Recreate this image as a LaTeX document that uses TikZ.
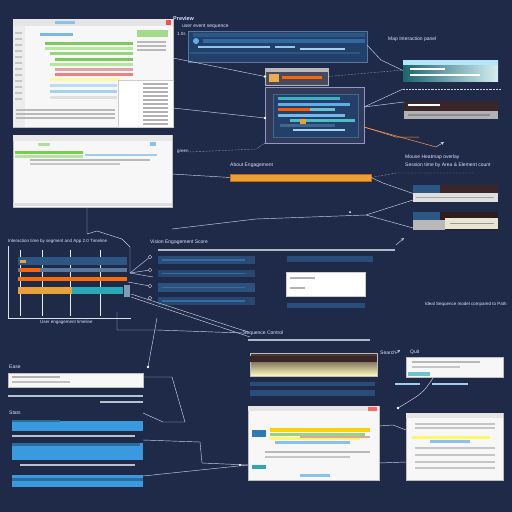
\documentclass[tikz,border=0pt]{standalone}
\usepackage{fontspec}
\setmainfont{Liberation Sans}
\definecolor{bg}{HTML}{1F2A48}
\definecolor{pnl}{HTML}{22406A}
\definecolor{pnlrow}{HTML}{2C5684}
\definecolor{brt}{HTML}{3E8FD0}
\definecolor{sky}{HTML}{3A9AE0}
\definecolor{org}{HTML}{E9A23B}
\definecolor{teal}{HTML}{2BA9B8}
\definecolor{grn}{HTML}{7CCB5A}
\definecolor{lgrn}{HTML}{B9E3A0}
\definecolor{pnk}{HTML}{E3A3A3}
\definecolor{brn}{HTML}{3A2628}
\definecolor{wl}{HTML}{C9D2E3}
\definecolor{scr}{HTML}{9AA6BC}
\newcommand{\mkbox}[6]{\node[#6, anchor=north west, inner sep=0pt, outer sep=0pt, minimum width={#4-#2}, minimum height={#5-#3}] (#1) at (#2,#3) {};}
\newcommand{\br}[5]{\fill[#1] (#2,#3) rectangle (#4,#5);}
\newcommand{\tl}[4]{\draw[#4,line width=1.1pt] (#1,#2) -- (#3,#2);}
\tikzset{
  win/.style={fill=white!94!gray, draw=gray!50, line width=0.6pt},
  dpanel/.style={fill=pnl, draw=pnlrow!80, line width=0.4pt},
  conn/.style={draw=wl, line width=0.45pt},
  lbl/.style={text=white!88!blue, font=\fontsize{5}{6}\selectfont, anchor=west, inner sep=0pt},
  dotc/.style={fill=white, draw=none},
}
\begin{document}
\begin{tikzpicture}[x=1pt,y=-1pt]
\fill[bg] (0,0) rectangle (512,512);
\useasboundingbox (0,0) rectangle (512,512);

% ---------- Window A ----------
\mkbox{wA}{13}{19}{173}{127}{win}
\br{gray!20}{13.3}{19.3}{172.7}{26}
\br{red!70}{166}{20}{171}{25}
\br{sky!60}{55}{21}{75}{24}
\br{gray!15}{13.3}{26}{25}{127}
\foreach \yy in {32,38,44,50,56,62,68,74,80,86,92,98}{\br{gray!45}{15}{\yy}{22}{\yy+1.5}}
\br{sky!70}{40}{33}{73}{36}
\br{grn}{45}{42}{133}{45}
\br{lgrn}{45}{47}{133}{50}
\br{grn!80}{50}{52}{133}{55}
\br{grn}{55}{58}{133}{61}
\br{lgrn}{50}{63}{133}{66}
\br{pnk}{55}{68}{133}{71}
\br{pnk!80!red}{55}{73}{133}{76}
\br{yellow!40}{50}{78}{120}{81}
\br{sky!35}{50}{84}{117}{87}
\br{sky!45}{50}{90}{117}{93}
\br{gray!25}{50}{96}{117}{99}
\br{grn!70}{137}{30}{168}{37}
\foreach \yy in {42,46,50}{\tl{137}{\yy}{166}{gray!55}}
\mkbox{wAin}{118}{80}{173}{127}{fill=white, draw=gray!40, line width=0.4pt}
\foreach \yy in {84,88,92,96,100,104,108,112,116,120,124}{\tl{143}{\yy}{168}{gray!60}}
\foreach \yy in {110,114,118}{\tl{16}{\yy}{115}{gray!55}}

% ---------- Window B ----------
\mkbox{wB}{13}{135}{172}{207}{win}
\br{gray!18}{13.3}{135.3}{171.7}{141}
\br{sky!60}{150}{142}{156}{146}
\br{grn!60}{38}{143}{50}{146}
\br{grn}{15}{151}{83}{154}
\br{lgrn}{15}{155}{83}{158}
\tl{85}{155}{157}{sky!50}
\tl{30}{160}{150}{gray!55}
\tl{30}{164}{120}{gray!45}
\br{gray!25}{13.3}{203}{171.7}{206}

% ---------- Top dark panel ----------
\node[lbl, font=\fontsize{5.5}{6}\selectfont\bfseries] (tPrev) at (173,19) {Preview};
\node[lbl] (tUser) at (182,26) {user event sequence};
\node[lbl, font=\fontsize{4.5}{5}\selectfont] (tLs) at (177,34) {1.0s};
\mkbox{pTop}{188}{31}{367}{62}{dpanel}
\br{pnlrow}{193}{33}{365}{37}
\fill[sky!80] (196,41) circle (3);
\br{pnlrow!70!sky}{203}{39}{365}{43}
\tl{198}{47}{270}{sky!55}
\tl{275}{47}{295}{sky!55}
\tl{300}{49}{345}{sky!45}
\tl{190}{53}{360}{pnlrow}

% small gray panel
\mkbox{pSm}{265}{68}{328}{85}{fill=gray!40!bg, draw=gray!55, line width=0.4pt}
\br{gray!55}{265.3}{68.3}{327.7}{72}
\br{org!90}{269}{74}{279}{82}
\br{orange!80!red}{282}{76}{322}{79}

% outlined box with inner panel
\mkbox{pBox}{265}{87}{364}{143}{fill=bg!92!white, draw=gray!60!blue!60!white, line width=0.5pt}
\mkbox{pIn}{273}{94}{358}{137}{fill=pnl, draw=pnlrow!90!white, line width=0.5pt}
\br{teal!90}{278}{97}{340}{100}
\br{sky!80}{278}{103}{350}{106}
\br{orange!70!red}{278}{108}{310}{111}
\br{teal!70}{310}{108}{335}{111}
\br{sky!70}{278}{114}{345}{117}
\br{teal!80}{290}{119}{355}{122}
\br{org}{300}{119}{306}{127}
\br{pnlrow!90!white}{280}{124}{335}{127}
\br{sky!45}{293}{129}{345}{131}

% ---------- Right top ----------
\node[lbl] (tMap) at (388,39) {Map Interaction panel};
\mkbox{pMap}{403}{60}{498}{81}{left color=teal!60!black, right color=teal!20!white, draw=none}
\br{cyan!30!white}{403}{60}{498}{65}
\tl{410}{69}{445}{white!70}
\tl{410}{75}{480}{white!60}
\mkbox{pBr1}{404}{101}{498}{119}{fill=brn, draw=none}
\br{gray!60}{404}{111}{498}{119}
\tl{408}{115}{490}{gray!90}
\tl{408}{105}{440}{white!70}

% ---------- Orange bar ----------
\node[lbl] (tAbout) at (230,165.5) {About Engagement};
\mkbox{pOrg}{230}{174}{371}{181}{fill=org, draw=orange!80!black, line width=0.3pt}

% ---------- Right middle ----------
\node[lbl] (tMouse) at (405,157) {Mouse Heatmap overlay};
\node[lbl] (tSess) at (405,165) {Session time by Area \& Element count};
\mkbox{pBr2}{413}{185}{498}{202}{fill=brn, draw=none}
\br{pnlrow}{413}{185}{440}{193}
\br{gray!25}{413}{193}{498}{202}
\tl{416}{197.5}{494}{gray!70}
\mkbox{pBr3}{413}{212}{498}{230}{fill=brn!80!black, draw=none}
\br{pnlrow}{413}{212}{440}{220}
\br{gray!55}{413}{220}{445}{230}
\br{yellow!30!gray!30!white}{445}{218}{498}{229}
\tl{450}{223.5}{494}{gray!80}

% ---------- Left chart ----------
\node[lbl, font=\fontsize{4.5}{5}\selectfont] (tChart) at (8,241) {Interaction time by segment and App 2.0 Timeline};
\mkbox{cBox}{8}{246}{131}{318}{draw=none}
\draw[wl!70, line width=0.4pt] (cBox.north west) -- (cBox.south west) -- (cBox.south east);
\foreach \xx in {20,42,70,100}{\draw[wl!40, line width=0.3pt] (\xx,250) -- (\xx,316);}
\br{pnlrow}{18}{257}{127}{265}
\br{org}{20}{260}{26}{263}
\br{pnlrow!80}{18}{268}{127}{272}
\br{orange!80!red}{20}{268}{40}{272}
\br{orange!85!red}{18}{277}{127}{281}
\br{org}{18}{287}{72}{294}
\br{teal}{72}{287}{123}{294}
\br{pnlrow!60!white}{124}{285}{130}{297}
\node[lbl, font=\fontsize{4.5}{5}\selectfont] (tCap) at (40,322) {User engagement timeline};

% ---------- Middle list ----------
\node[lbl] (tVis) at (150,242) {Vision Engagement Score};
\tl{158}{250}{395}{scr!80}
\mkbox{r1}{158}{256}{255}{264}{fill=pnlrow!75!bg, draw=none}
\mkbox{r2}{158}{270}{255}{277}{fill=pnlrow!65!bg, draw=none}
\mkbox{r3}{158}{283}{255}{292}{fill=pnlrow!90!bg, draw=none}
\mkbox{r4}{158}{297}{255}{305}{fill=pnlrow!65!bg, draw=none}
\foreach \yy in {260,273.5,287.5,301}{\tl{162}{\yy}{245}{sky!35!pnlrow}}
\foreach \yy/\nm in {257/i1,270/i2,286/i3,298/i4}{\node[draw=wl, circle, inner sep=1.3pt] (\nm) at (150,\yy) {};}
\mkbox{r5}{287}{256}{373}{262}{fill=pnlrow!80!bg, draw=none}
\mkbox{wMid}{286}{272}{365}{296}{fill=white, draw=gray!40}
\tl{290}{278}{315}{gray!60}
\tl{290}{288}{305}{gray!60}
\mkbox{r6}{287}{303}{365}{308}{fill=pnlrow!80!bg, draw=none}
\node[lbl, font=\fontsize{4.5}{5}\selectfont] (tIdeal) at (425,304) {Ideal Sequence model compared to Path};

% ---------- Bottom left ----------
\node[lbl] (tEase) at (9,367) {Ease};
\mkbox{wEase}{8}{373}{143}{387}{win}
\tl{12}{377}{60}{gray!60}
\tl{12}{382}{70}{gray!50}
\tl{8}{396}{143}{scr!70}
\tl{100}{402}{143}{scr!70}
\node[lbl] (tStats) at (9,413) {Stats};
\mkbox{b1}{12}{421}{143}{431}{fill=sky, draw=none}
\br{sky!70!black}{12}{420}{60}{422}
\tl{12}{436}{135}{scr!70}
\mkbox{b2}{12}{443}{143}{460}{fill=sky, draw=none}
\br{sky!70!black}{12}{443}{140}{446}
\tl{20}{465}{135}{scr!70}
\mkbox{b3}{12}{475}{143}{487}{fill=sky, draw=none}
\br{sky!70!black}{12}{478}{143}{481}

% ---------- Bottom center ----------
\node[lbl] (tSeq) at (243,333) {Sequence Control};
\tl{248}{340}{370}{scr!80}
\mkbox{pYel}{250}{353}{377}{376}{top color=brn, bottom color=yellow!25!white, draw=gray!50}
\br{brn}{250}{356}{377}{362}
\mkbox{r7}{250}{382}{375}{386}{fill=pnlrow!80!bg, draw=none}
\mkbox{r8}{250}{390}{375}{396}{fill=pnlrow!80!bg, draw=none}
\mkbox{wC}{248}{406}{379}{480}{win}
\br{gray!20}{248.3}{406.3}{378.7}{411}
\br{red!60}{368}{407}{377}{411}
\br{sky!80!black}{252}{430}{266}{437}
\br{yellow!70!orange}{270}{428}{370}{432}
\br{grn!80}{270}{433}{365}{436}
\br{yellow!60}{270}{437}{360}{440}
\br{sky!60}{275}{441}{350}{444}
\br{pnk}{300}{436}{370}{438}
\tl{265}{452}{370}{gray!55}
\tl{265}{457}{350}{gray!45}
\br{teal}{252}{465}{266}{469}
\br{sky!60}{300}{474}{330}{477}

% ---------- Right bottom ----------
\node[lbl] (tSearch) at (380,353) {Search};
\node[lbl] (tQuit) at (410,352) {Quit};
\mkbox{wD}{406}{357}{503}{377}{win}
\br{teal!70}{408}{372}{430}{376}
\tl{412}{362}{480}{gray!55}
\tl{412}{367}{460}{gray!45}
\tl{395}{384}{420}{sky!50}
\tl{432}{384}{468}{sky!50}
\mkbox{wE}{406}{413}{503}{480}{win}
\br{gray!20}{406.3}{413.3}{502.7}{418}
\br{yellow!60}{412}{436}{490}{439}
\br{sky!60}{430}{440}{470}{443}
\foreach \yy in {424,428,448,455,462,468}{\tl{415}{\yy}{495}{gray!45}}

% ---------- Connectors ----------
\draw[conn] (wA.east |- 0,58) -- (pSm.west) coordinate (e1);
\fill[dotc] (e1) circle (1.3);
\draw[conn] (wA.east |- 0,108) -- (pBox.west |- 0,118) coordinate (e2);
\fill[dotc] (e2) circle (1.3);
\node[lbl, font=\fontsize{4.5}{5}\selectfont] (tGr) at (177,152) {green};
\draw[conn, densely dotted] (tGr.east) -- (256,149) -- (pBox.south west);
\draw[conn] (wB.east |- 0,174) -- (pOrg.west);
\draw[conn] (wB.east |- 0,229) -- (256,219) -- (366,215) -- (pBr3.west |- 0,228);
\draw[conn] (366,215) -- (pBr2.west |- 0,200);
\fill[dotc] (350,212) circle (1);
\draw[conn, densely dotted] (pOrg.east) -- (396,173) -- (473,173);
\draw[conn] (pOrg.east) -- (383,183) -- (pBr2.west);
\draw[conn] (pTop.east |- 0,45) -- (381,60) -- (pMap.west);
\draw[conn, densely dotted] (pSm.east) -- (pMap.west |- 0,70);
\draw[conn, densely dotted] (403,89) -- (501,89);
\draw[conn] (pBox.east |- 0,107) -- (403,89);
\draw[conn] (pBox.east |- 0,107) -- (pBr1.west |- 0,102);
\draw[orange!60!pink, line width=0.5pt] (pBox.east |- 0,127) -- (396,137) -- (419,137);
\draw[orange!60!pink, line width=0.5pt] (pBox.east |- 0,127) -- (436,147);
\draw[conn, -stealth] (436,147) -- (444,142);
\draw[conn] (wB.south -| 87,0) -- (87,234) -- (97,231) -- (122,239) -- (130,247) -- (130,273) coordinate (hub);
\draw[conn] (hub) -- (i1);
\draw[conn] (hub) -- (i2);
\draw[conn] (hub) -- (153,277);
\draw[conn] (128,282) -- (i3);
\draw[conn] (cBox.east |- 0,297) -- (250,337);
\draw[conn] (131,294) -- (248,332);
\draw[conn] (117,312) -- (117,330) -- (157,330) -- (tSeq.west);
\draw[conn] (157,318) -- (148,367) coordinate (e3);
\fill[dotc] (e3) circle (1.3);
\draw[conn] (wEase.east |- 0,377) -- (172,377) -- (185,422) -- (163,422) -- (b1.east |- 0,413);
\draw[conn] (b2.east |- 0,440) -- (200,442) -- (202,463) -- (wC.west |- 0,465);
\draw[conn] (b3.east |- 0,476) -- (wC.west |- 0,465);
\fill[dotc] (240,465) circle (1.2);
\draw[conn] (wC.east |- 0,426) -- (393,425) -- (wE.west |- 0,430);
\draw[conn] (wC.east |- 0,463) -- (wE.west |- 0,462);
\draw[conn] (433,378) .. controls (423,393) .. (398,408) coordinate (e4);
\fill[dotc] (e4) circle (1.3);
\draw[conn, -stealth] (tSearch.east) -- ++(4,-3);
\draw[conn, -stealth] (396,245) -- (404,238);
\end{tikzpicture}
\end{document}
